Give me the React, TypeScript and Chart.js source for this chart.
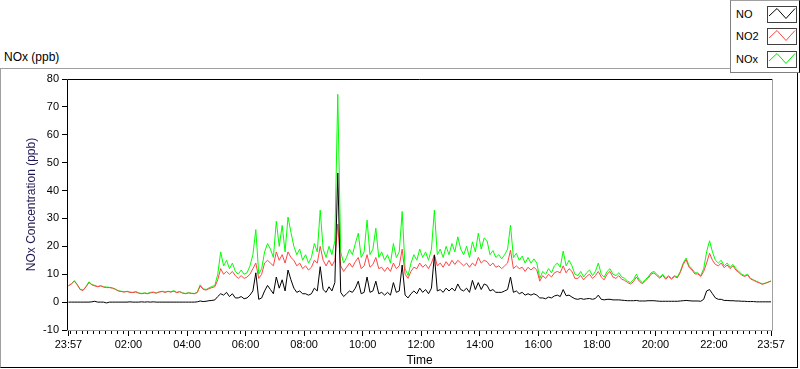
import React, { useEffect, useRef } from "react";
import { Chart, registerables } from "chart.js";

Chart.register(...registerables);

// Samples every 6 minutes starting at 23:57 (minute 0) through 23:57 next day (minute 1440)
const STEP_MIN = 6;

const tickMinutes = [0, 123, 243, 363, 483, 603, 723, 843, 963, 1083, 1203, 1323, 1440];
const tickLabels = ["23:57", "02:00", "04:00", "06:00", "08:00", "10:00", "12:00", "14:00", "16:00", "18:00", "20:00", "22:00", "23:57"];
const yTickValues = [-10, 0, 10, 20, 30, 40, 50, 60, 70, 80];

const noValues = [
  0, 0, 0, 0, 0, 0, 0, 0, 0.1, 0.3,
  0, 0, 0, -0.3, 0, 0, 0, 0, 0, 0,
  0, 0.1, 0, 0, 0, 0.1, 0, 0.1, 0, 0.1,
  0, 0, 0, 0, 0, 0, 0, 0, 0, 0,
  0, 0, 0, 0, 0.1, 0.4, 0.2, 0.3, 0.5, 0.6,
  0.8,
  2, 3, 2.5, 3.5, 2, 3, 1.5, 1.5, 2, 1.2,
  1.5, 2.5, 4, 10.5, 1, 1.5, 4, 6, 4.5, 3,
  9, 5, 8, 4, 11.5, 8, 5, 3.5, 4, 3,
  3, 2.5, 3, 5, 4, 12.7, 4.5, 3.5, 5.5, 4,
  7, 46.3, 3.5, 2, 3, 4, 3.5, 5, 7.5, 3,
  3.5, 9, 3.5, 4, 7.5, 3, 3.5, 2.5, 3.5, 2.5,
  7, 3.5, 4, 13.3, 2.5, 1.5, 3, 4, 3, 5,
  3.5, 4.5, 3, 5, 16.8, 4, 4.5, 3.5, 5, 4,
  5, 4, 6.5, 4.5, 4, 5, 3.5, 7.8, 4.5, 7,
  4.5, 6.5, 6, 4, 4.5, 3.5, 3.5, 3.5, 4, 4.5,
  9, 3.5, 4, 3, 3.5, 2.5, 3, 2.5, 3, 2.5,
  1.5, 1.5, 1.2, 1.8, 1.5, 2.2, 2.5, 2, 4.5, 2.3,
  2.5, 1.8, 1.2, 1, 1.3, 1, 1.2, 1.3, 1, 1.3,
  2.5, 1, 0.8, 1, 1, 0.8, 0.8, 0.8, 0.7, 0.6,
  0.5, 0.5, 0.5, 0.6, 0.4, 0.4, 0.4, 0.5, 0.5, 0.5,
  0.4, 0.3, 0.3, 0.3, 0.3, 0.3, 0.3, 0.3, 0.4, 0.5,
  0.6, 0.5, 0.4, 0.4, 0.4, 0.3, 1, 4, 4.5, 3,
  1.5, 1, 1, 0.6, 0.6, 0.5, 0.5, 0.4, 0.4, 0.3,
  0.3, 0.2, 0.2, 0.2, 0.1, 0.1, 0.1, 0.1, 0.1, 0.1,
];

const no2Values = [
  5.8, 6.5, 7.5, 6.2, 4.5, 4.2, 5.5, 7.0, 6.2, 5.8,
  5.5, 5.8, 5.4, 5.2, 5.2, 5.0, 4.6, 4.0, 3.8, 3.6,
  3.8, 3.5, 3.4, 3.6, 3.2, 3.0, 3.2, 3.0, 3.3, 3.5,
  3.2, 3.6, 3.8, 3.5, 3.8, 3.6, 3.9, 3.4, 3.7, 3.2,
  3.0, 3.3, 3.1, 3.0, 3.4, 5.8, 4.6, 4.3, 4.8, 5.2,
  5.5,
  8, 12, 10, 11, 10, 11, 9.5, 8.5, 9.5, 8.5,
  9, 10, 12, 14, 8.5, 10, 14, 15, 14, 13,
  18, 15, 17, 14, 18, 16, 15, 13, 14, 12,
  13, 11.5, 12.5, 15, 14, 20, 15, 13, 15, 13,
  15, 28, 13, 11, 12.5, 14, 12.5, 14.5, 16, 12,
  13, 17, 12.5, 13.5, 16, 12, 12.5, 11, 12.5, 11,
  14, 12, 13, 19, 10, 8.5, 11, 12.5, 12, 14,
  12.5, 13.5, 12, 14, 17, 13, 14, 12.5, 14.5, 13,
  15, 13.5, 15, 14, 13, 14, 12.5, 14, 13, 16,
  14, 15, 14.5, 13, 14, 12.5, 13, 12, 13, 14,
  18.6, 12, 13, 12, 12.5, 11, 12.5, 11.5, 12.5, 11.5,
  7.5, 9.5, 8.5, 10, 9, 10.5, 11, 10.5, 13, 10.5,
  12, 11, 8.5, 8.5, 9.5, 8, 9.2, 10, 8.5, 9.5,
  11, 9, 8, 10, 11, 9, 8.5, 9.5, 8.2, 7.8,
  7, 6.5, 7.3, 9, 7.5, 6.6, 7.5, 8.5, 10, 10.5,
  9.5, 8.6, 9.6, 8.2, 9.2, 8.2, 9.2, 8.7, 10.6, 13.5,
  15.2, 12.5, 11.5, 10.1, 10.1, 9.2, 11, 14, 17.5, 15,
  13.5, 13, 14, 12.3, 13.3, 12, 13, 11.5, 10.6, 9.7,
  9.2, 9.7, 8.3, 7.8, 7.3, 6.9, 6.4, 6.7, 7.1, 7.5,
];

const noxValues = [
  5.9, 6.6, 7.7, 6.3, 4.6, 4.3, 5.6, 7.3, 6.3, 6.0,
  5.6, 5.9, 5.5, 5.4, 5.3, 5.1, 4.7, 4.1, 3.9, 3.7,
  3.9, 3.6, 3.5, 3.8, 3.3, 3.1, 3.3, 3.1, 3.5, 3.6,
  3.3, 3.7, 3.9, 3.6, 3.9, 3.7, 4.1, 3.5, 3.8, 3.3,
  3.1, 3.4, 3.2, 3.1, 3.6, 6.2, 4.8, 4.5, 5.1, 5.6,
  6.0,
  10, 18, 13, 15, 12, 14, 11, 10, 11.5, 10,
  10.5, 13, 17, 26, 10, 12, 18, 21, 19, 16,
  29, 20, 27.5, 18, 30.5, 25, 20, 17, 19, 15,
  17, 14, 16, 21, 18, 33, 19, 16, 20, 17,
  22, 74.5, 18, 14, 16, 19, 17, 21, 24.7, 16,
  18, 29.4, 17, 19, 26.5, 16, 18, 15, 17, 14,
  21, 16, 18, 32.5, 12, 9.5, 14, 17, 15, 19,
  16, 18, 15, 19, 33, 17, 19, 16, 20, 17,
  21, 18, 23.4, 19, 17, 20, 16, 21.6, 18, 24.7,
  19, 23, 22, 17, 18.5, 16, 17, 15.5, 17, 19,
  27.6, 16, 17.5, 15, 16.5, 14, 16, 14, 15.5, 14,
  8.5, 11, 10, 12, 10.5, 13, 14, 12.5, 18.3, 13,
  15, 13, 10, 9.5, 11, 9, 10.5, 11.5, 9.5, 11,
  14, 10, 9, 11, 12, 10, 9.5, 10.5, 9, 8.5,
  7.5, 7, 8, 10, 8, 7, 8, 9, 10.5, 11,
  10, 9, 10, 8.5, 9.5, 8.5, 9.5, 9, 11, 14,
  15.8, 13, 12, 10.5, 10.5, 9.5, 12, 18, 22, 18,
  15, 14, 15, 13, 14, 12.5, 13.5, 12, 11, 10,
  9.5, 10, 8.5, 8, 7.5, 7, 6.5, 6.8, 7.2, 7.6,
];

// minor ticks every 12 minutes aligned to the clock (00:00 = minute 3)
const minorTickMinutes: number[] = [];
for (let t = 3; t <= 1440; t += 12) {
  if (!tickMinutes.includes(t)) minorTickMinutes.push(t);
}

const toPoints = (vals: number[]) => vals.map((v, i) => ({ x: i * STEP_MIN, y: v }));

const FONT = "'Liberation Sans', Arial, sans-serif";

const framePlugin = {
  id: "frameAndMinor",
  afterDatasetsDraw(chart: any) {
    const { ctx, chartArea } = chart;
    const { left, top, right, bottom } = chartArea;
    ctx.save();
    ctx.lineWidth = 1;
    ctx.strokeStyle = "#000";
    ctx.beginPath();
    ctx.moveTo(left + 0.5, bottom);
    ctx.lineTo(left + 0.5, top + 0.5);
    ctx.lineTo(right, top + 0.5);
    ctx.stroke();
    ctx.strokeStyle = "#a0a0a0";
    ctx.beginPath();
    ctx.moveTo(left, bottom + 0.5);
    ctx.lineTo(right + 0.5, bottom + 0.5);
    ctx.lineTo(right + 0.5, top);
    ctx.stroke();
    const xs = chart.scales.x;
    ctx.strokeStyle = "#000";
    ctx.beginPath();
    for (const t of minorTickMinutes) {
      const px = Math.round(xs.getPixelForValue(t)) + 0.5;
      ctx.moveTo(px, bottom + 1);
      ctx.lineTo(px, bottom + 4);
    }
    ctx.stroke();
    ctx.restore();
  },
};

const legendItems = [
  { label: "NO", color: "#000000", top: 6 },
  { label: "NO2", color: "#ff4444", top: 28 },
  { label: "NOx", color: "#00e600", top: 51 },
];

export default function App() {
  const ref = useRef<HTMLCanvasElement | null>(null);

  useEffect(() => {
    if (!ref.current) return;
    const chart = new Chart(ref.current, {
      type: "line",
      data: {
        datasets: [
          { label: "NO", data: toPoints(noValues), borderColor: "#000000", borderWidth: 1, pointRadius: 0, tension: 0, fill: false },
          { label: "NO2", data: toPoints(no2Values), borderColor: "#ff4444", borderWidth: 1, pointRadius: 0, tension: 0, fill: false },
          { label: "NOx", data: toPoints(noxValues), borderColor: "#00ff00", borderWidth: 1, pointRadius: 0, tension: 0, fill: false },
        ],
      },
      options: {
        animation: false,
        responsive: false,
        devicePixelRatio: 1,
        parsing: false as any,
        layout: { padding: { top: 79, right: 28, left: 0, bottom: 0 } },
        plugins: { legend: { display: false }, tooltip: { enabled: false } },
        scales: {
          x: {
            type: "linear",
            min: -3,
            max: 1442,
            afterBuildTicks: (scale: any) => {
              scale.ticks = tickMinutes.map((v) => ({ value: v }));
            },
            afterFit: (scale: any) => {
              scale.height = 39;
            },
            ticks: {
              autoSkip: false,
              maxRotation: 0,
              padding: 2,
              color: "#000",
              font: { family: FONT, size: 11 },
              callback: (v: any) => {
                const idx = tickMinutes.indexOf(Number(v));
                return idx >= 0 ? tickLabels[idx] : "";
              },
            },
            grid: { display: true, drawOnChartArea: false, drawTicks: true, tickLength: 6, color: "#000" },
            border: { display: false },
            title: {
              display: true,
              text: "Time",
              color: "#000",
              font: { family: FONT, size: 12 },
              padding: { top: 0, bottom: 1 },
            },
          },
          y: {
            type: "linear",
            min: -10,
            max: 80,
            afterBuildTicks: (scale: any) => {
              scale.ticks = yTickValues.map((v) => ({ value: v }));
            },
            afterFit: (scale: any) => {
              scale.width = 67;
            },
            ticks: {
              padding: 3,
              color: "#000",
              font: { family: FONT, size: 11 },
            },
            grid: { display: true, drawOnChartArea: false, drawTicks: true, tickLength: 5, color: "#000" },
            border: { display: false },
            title: {
              display: true,
              text: "NOx Concentration (ppb)",
              color: "#1e1850",
              font: { family: FONT, size: 12 },
              padding: { top: 24, bottom: 0 },
            },
          },
        },
      },
      plugins: [framePlugin],
    } as any);
    return () => chart.destroy();
  }, []);

  return (
    <div style={{ position: "absolute", left: 0, top: 0, width: 800, height: 369, background: "#fff", overflow: "hidden", fontFamily: FONT }}>
      <div
        style={{
          position: "absolute",
          left: 0,
          top: 68,
          width: 798,
          height: 300,
          boxSizing: "border-box",
          borderTop: "1px solid #a0a0a0",
          borderLeft: "1px solid #a0a0a0",
          borderRight: "1px solid #000",
          borderBottom: "1px solid #000",
        }}
      />
      <div style={{ position: "absolute", left: 4, top: 50, fontSize: 12, lineHeight: "14px", color: "#000", whiteSpace: "nowrap" }}>NOx (ppb)</div>
      <canvas ref={ref} width={800} height={369} style={{ position: "absolute", left: 0, top: 0, width: 800, height: 369 }} />
      <div
        style={{
          position: "absolute",
          left: 730,
          top: 0,
          width: 70,
          height: 73,
          boxSizing: "border-box",
          background: "#fff",
          borderTop: "1px solid #a0a0a0",
          borderLeft: "1px solid #808080",
          borderBottom: "1px solid #808080",
          borderRight: "1px solid #000",
        }}
      >
        {legendItems.map((it) => (
          <React.Fragment key={it.label}>
            <div style={{ position: "absolute", left: 5, top: it.top, fontSize: 11, lineHeight: "15px", color: "#000" }}>{it.label}</div>
            <svg width={30} height={17} style={{ position: "absolute", left: 36, top: it.top - 1 }}>
              <rect x={0.5} y={0.5} width={29} height={16} fill="#fff" stroke="#404040" strokeWidth={1} />
              <polyline points="2,10 10,2.5 19,12.5 28,2.5" fill="none" stroke={it.color} strokeWidth={1} />
            </svg>
          </React.Fragment>
        ))}
      </div>
    </div>
  );
}
